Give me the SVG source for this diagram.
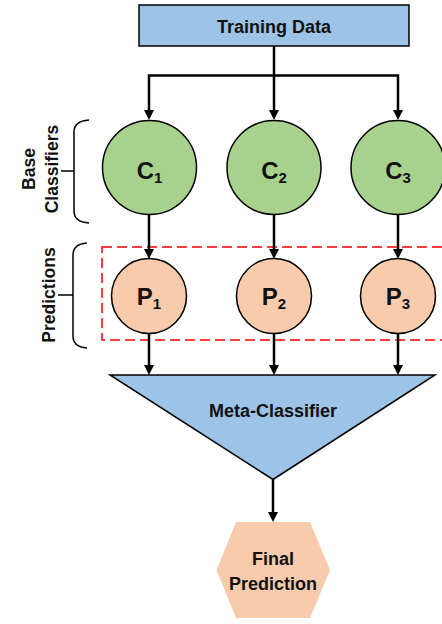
<svg xmlns="http://www.w3.org/2000/svg" width="442" height="624" viewBox="0 0 442 624">
<defs>
<marker id="arr" markerUnits="userSpaceOnUse" markerWidth="10" markerHeight="10" refX="1" refY="5" orient="auto">
<path d="M0,0 L10,5 L0,10 z" fill="#000"/>
</marker>
<style>
text{font-family:"Liberation Sans",Arial,sans-serif;font-weight:bold;fill:#111;text-anchor:middle}
.conn path{fill:none;stroke:#000;stroke-width:2.5;marker-end:url(#arr)}
.c{fill:#A9D18E;stroke:#000;stroke-width:1.5}
.p{fill:#F8CBAD;stroke:#000;stroke-width:1.5}
.br{fill:none;stroke:#000;stroke-width:1.5}
.big{font-size:24px}
.sub{font-size:15px}
.lbl{font-size:18px}
.side{font-size:17.5px}
</style>
</defs>
<rect width="442" height="624" fill="#fff"/>

<g id="predictions-box">
<rect x="102" y="247" width="345" height="93" fill="none" stroke="#FF0000" stroke-width="1.5" stroke-dasharray="10 5"/>
</g>

<g class="conn" id="connectors">
<path d="M274,46 V111"/>
<path d="M274,75.5 H149 V111" stroke-linejoin="miter"/>
<path d="M274,75.5 H398 V111" stroke-linejoin="miter"/>
<path d="M149,214 V250"/>
<path d="M274,214 V250"/>
<path d="M398,214 V250"/>
<path d="M149,333 V366"/>
<path d="M274,333 V366"/>
<path d="M398,333 V366"/>
<path d="M273,479 V513"/>
</g>

<g id="training-data">
<rect x="139" y="5" width="270" height="41" fill="#9DC3E6" stroke="#000" stroke-width="1.5"/>
<text class="lbl" x="274" y="32.5">Training Data</text>
</g>

<g id="c1"><circle class="c" cx="149.5" cy="167.5" r="47"/><text class="big" x="149.5" y="178.5">C<tspan class="sub" dy="4">1</tspan></text></g>
<g id="c2"><circle class="c" cx="274" cy="167.5" r="47"/><text class="big" x="274" y="178.5">C<tspan class="sub" dy="4">2</tspan></text></g>
<g id="c3"><circle class="c" cx="398" cy="167.5" r="47"/><text class="big" x="398" y="178.5">C<tspan class="sub" dy="4">3</tspan></text></g>

<g id="p1"><circle class="p" cx="149" cy="296" r="37.5"/><text class="big" x="149" y="304.5">P<tspan class="sub" dy="4">1</tspan></text></g>
<g id="p2"><circle class="p" cx="274" cy="296" r="37.5"/><text class="big" x="274" y="304.5">P<tspan class="sub" dy="4">2</tspan></text></g>
<g id="p3"><circle class="p" cx="398" cy="296" r="37.5"/><text class="big" x="398" y="304.5">P<tspan class="sub" dy="4">3</tspan></text></g>

<g id="meta-classifier">
<polygon points="110,375 435,375 273,479.5" fill="#9DC3E6" stroke="#000" stroke-width="1.5" stroke-linejoin="miter"/>
<text class="lbl" x="273" y="417">Meta-Classifier</text>
</g>

<g id="final-prediction">
<polygon points="236,522 310,522 330,570 310,618 236,618 216.5,570" fill="#F8CBAD"/>
<text class="lbl" x="273" y="565">Final</text>
<text class="lbl" x="273" y="590">Prediction</text>
</g>

<g id="base-classifiers-label">
<text class="side" transform="translate(35,169) rotate(-90)">Base</text>
<text class="side" transform="translate(58,169) rotate(-90)">Classifiers</text>
<path class="br" d="M89,120 Q74,121 74,132 V211 Q74,222 89,223"/>
<path class="br" d="M61,171 H74"/>
</g>

<g id="predictions-label">
<text class="side" transform="translate(55,295) rotate(-90)">Predictions</text>
<path class="br" d="M87,243 Q73,244 73,255 V336 Q73,347 87,348"/>
<path class="br" d="M58,295 H73"/>
</g>
</svg>
